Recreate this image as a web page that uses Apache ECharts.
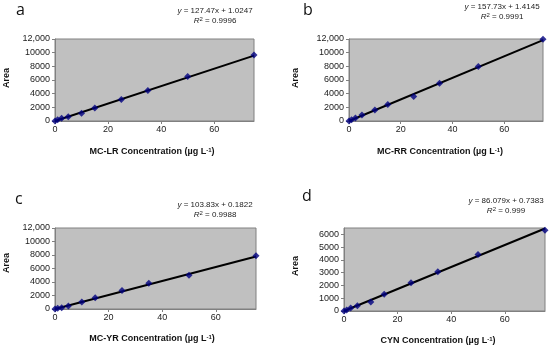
<!DOCTYPE html>
<html><head><meta charset="utf-8">
<script src="https://cdn.jsdelivr.net/npm/echarts@6/dist/echarts.min.js"></script>
<style>html,body{margin:0;padding:0;background:#fff}#c{width:550px;height:352px}</style>
</head><body><div id="c"></div>
<script>
// Data
const concX = [0, 1, 2.5, 5, 10, 15, 25, 35, 50, 75];
const areaLR = [0, 190, 390, 640, 1130, 1910, 3140, 4460, 6500, 9650];
const areaRR = [0, 200, 440, 880, 1620, 2400, 3580, 5530, 7980, 11950];
const areaYR = [0, 100, 200, 440, 1030, 1670, 2750, 3830, 5000, 7900];
const areaCYN = [0, 80, 240, 420, 710, 1320, 2210, 3080, 4420, 6330];
// Trendline endpoints (x = 0 and x = 75)
const trendX = [0, 75];
const trendLR = [1, 9561];
const trendRR = [1.4, 11831];
const trendYR = [0.2, 7787];
const trendCYN = [0.7, 6457];
const xTicks = [0, 20, 40, 60];
const yTicksBig = [0, 2000, 4000, 6000, 8000, 10000, 12000];
const yLabelsBig = ['0', '2000', '4000', '6000', '8000', '10000', '12,000'];
const yTicksCYN = [0, 1000, 2000, 3000, 4000, 5000, 6000];
const yLabelsCYN = ['0', '1000', '2000', '3000', '4000', '5000', '6000'];
const panels = [
  {letter: 'a', xTitle: 'MC-LR Concentration (µg L{sup|-1})', eq: 'y = 127.47x + 1.0247', r2: '0.9996', y: areaLR, t: trendLR, ymax: 12000, ticks: yTicksBig, labels: yLabelsBig},
  {letter: 'b', xTitle: 'MC-RR Concentration (µg L{sup|-1})', eq: 'y = 157.73x + 1.4145', r2: '0.9991', y: areaRR, t: trendRR, ymax: 12000, ticks: yTicksBig, labels: yLabelsBig},
  {letter: 'c', xTitle: 'MC-YR Concentration (µg L{sup|-1})', eq: 'y = 103.83x + 0.1822', r2: '0.9988', y: areaYR, t: trendYR, ymax: 12000, ticks: yTicksBig, labels: yLabelsBig},
  {letter: 'd', xTitle: 'CYN Concentration (µg L{sup|-1})', eq: 'y = 86.079x + 0.7383', r2: '0.999', y: areaCYN, t: trendCYN, ymax: 6500, ticks: yTicksCYN, labels: yLabelsCYN}
];
// layout (positions only)
const grids = [
  {left: 55, top: 39, width: 199, height: 82},
  {left: 349, top: 39, width: 194, height: 82},
  {left: 55, top: 228, width: 201, height: 81},
  {left: 344, top: 228, width: 201, height: 83}
];
const letterPos = [[16, 2], [303, 2], [15, 191], [302, 188]];
const eqPos = [[215, 6], [502, 2], [215, 200], [506, 196]];
const areaPos = [[7, 78], [296, 78], [7, 263], [296, 266]];
const xtPos = [[152, 147], [440, 147], [152, 334], [438, 336]];

const font = 'Liberation Sans, Arial, sans-serif';
const chart = echarts.init(document.getElementById('c'));
const option = {
  animation: false,
  backgroundColor: '#fff',
  grid: grids.map(g => Object.assign({show: true, backgroundColor: '#c0c0c0', borderColor: '#808080', borderWidth: 1}, g)),
  xAxis: panels.map((p, i) => ({
    type: 'value', gridIndex: i, min: 0, max: 75,
    axisLine: {show: true, lineStyle: {color: '#808080'}},
    axisTick: {show: true, length: 3, inside: false, customValues: xTicks, lineStyle: {color: '#808080'}},
    axisLabel: {customValues: xTicks, fontFamily: font, fontSize: 9, color: '#222', margin: 4},
    splitLine: {show: false}
  })),
  yAxis: panels.map((p, i) => ({
    type: 'value', gridIndex: i, min: 0, max: p.ymax,
    axisLine: {show: true, lineStyle: {color: '#808080'}},
    axisTick: {show: true, length: 3, customValues: p.ticks, lineStyle: {color: '#808080'}},
    axisLabel: {customValues: p.ticks, fontFamily: font, fontSize: 9, color: '#222', margin: 5,
      formatter: v => p.labels[p.ticks.indexOf(v)]},
    splitLine: {show: false}
  })),
  series: [],
  graphic: []
};
panels.forEach((p, i) => {
  option.series.push({
    type: 'line', xAxisIndex: i, yAxisIndex: i,
    data: trendX.map((x, k) => [x, p.t[k]]),
    showSymbol: false, lineStyle: {color: '#000', width: 2}, z: 2
  });
  option.series.push({
    type: 'scatter', xAxisIndex: i, yAxisIndex: i,
    data: concX.map((x, k) => [x, p.y[k]]),
    symbol: 'diamond', symbolSize: 7, itemStyle: {color: '#000080'}, z: 3
  });
  option.graphic.push({type: 'text', left: letterPos[i][0], top: letterPos[i][1],
    style: {text: p.letter, font: '16px "Open Sans", Arial, sans-serif', fill: '#111'}});
  option.graphic.push({type: 'text', x: eqPos[i][0], y: eqPos[i][1],
    style: {text: '{i|y} = ' + p.eq.slice(4) + '\n{i|R}{sup|2} = ' + p.r2,
      align: 'center', fontFamily: font, fontSize: 8, fill: '#222', lineHeight: 10,
      rich: {i: {fontStyle: 'italic', fontFamily: font, fontSize: 8, fill: '#222'},
             sup: {fontSize: 6, fontFamily: font, verticalAlign: 'top', fill: '#222'}}}});
  option.graphic.push({type: 'text', x: areaPos[i][0], y: areaPos[i][1], rotation: Math.PI / 2,
    style: {text: 'Area', align: 'center', verticalAlign: 'middle', font: 'bold 9px ' + font, fill: '#111'}});
  option.graphic.push({type: 'text', x: xtPos[i][0], y: xtPos[i][1],
    style: {text: p.xTitle, align: 'center', fontFamily: font, fontSize: 9, fontWeight: 'bold', fill: '#111',
      rich: {sup: {fontSize: 6, fontWeight: 'bold', fontFamily: font, verticalAlign: 'top', fill: '#111'}}}});
});
chart.setOption(option);
</script></body></html>
